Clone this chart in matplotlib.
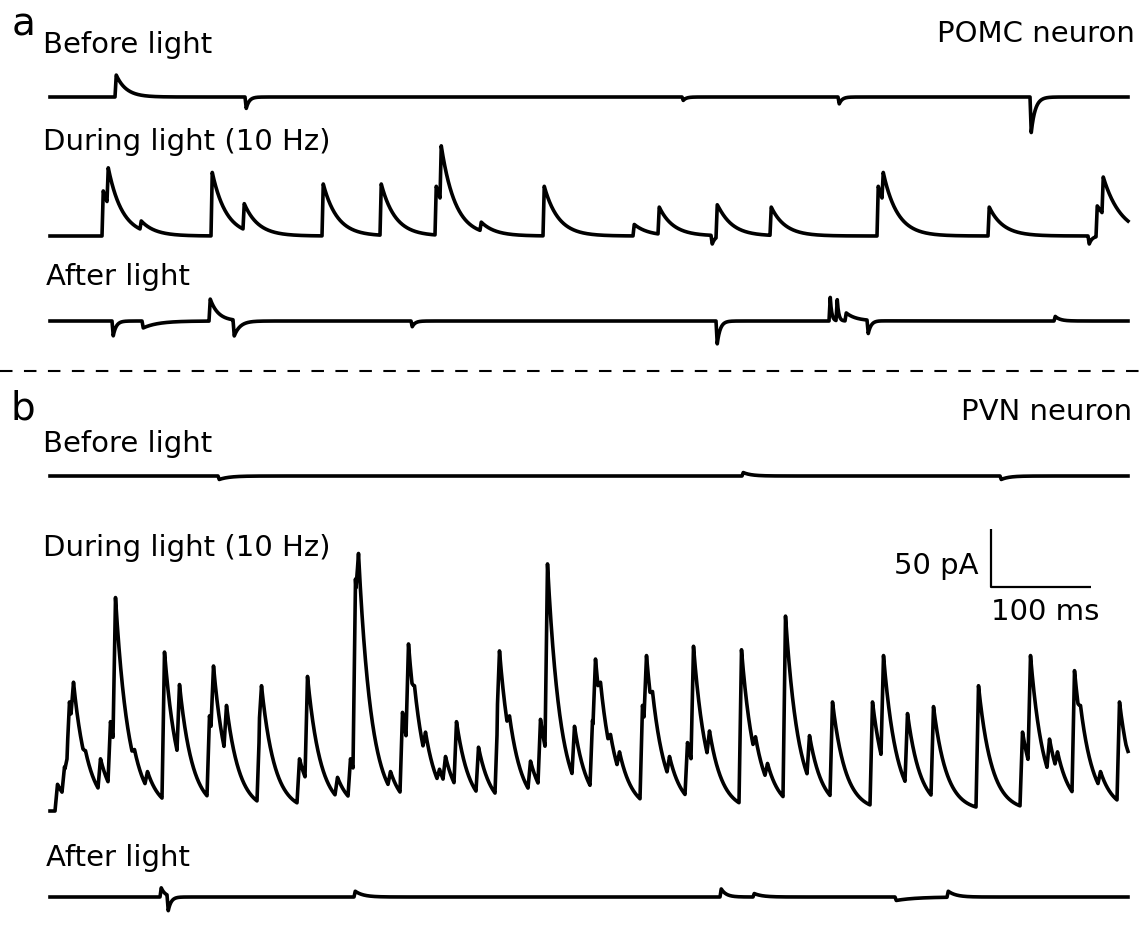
import numpy as np
import matplotlib
matplotlib.use("Agg")
import matplotlib.pyplot as plt
from matplotlib.lines import Line2D

# ---------------- data (times in ms, current in pA; upward = inward event) --------------
DURATION_MS = 1078

# a: POMC neuron
A_BEFORE_T = [65, 195, 632, 788, 980]
A_BEFORE_P = [19, -10, -3, -6, -31]
A_BEFORE_TAU = [10, 3, 3, 3, 4]

A_DURING_T = [52, 57, 90, 161, 193, 272, 330, 385, 390, 430, 493, 583, 608, 661, 666,
              720, 827, 832, 938, 1038, 1046, 1052]
A_DURING_P = [39, 59, 13, 55, 28, 45, 45, 43, 78, 12, 43, 10, 25, -7, 27,
              25, 43, 55, 25, -7, 26, 51]
A_DURING_TAU = [14, 14, 14, 14, 14, 14, 14, 14, 14, 14, 14, 14, 14, 3, 14,
                14, 14, 14, 14, 3, 18, 18]

A_AFTER_T = [62, 92, 159, 183, 361, 666, 779, 786, 795, 817, 1004]
A_AFTER_P = [-13, -6, 19, -13, -5, -20, 21, 19, 7, -11, 4]
A_AFTER_TAU = [3, 15, 8, 6, 3, 3, 1.5, 1.5, 10, 3, 5]

# b: PVN neuron
B_BEFORE_T = [168, 692, 950]
B_BEFORE_P = [-3, 3, -3]
B_BEFORE_TAU = [10, 8, 8]

B_DURING_T = [5, 12, 15, 17, 21, 33, 48, 58, 63, 82, 95, 112, 127, 157, 161, 174, 207, 209,
              247, 255, 285, 298, 303, 306, 338, 350, 356, 362, 373, 387, 393, 404, 426,
              445, 447, 457, 478, 488, 495, 522, 540, 543, 548, 558, 567, 590, 594, 600,
              617, 635, 641, 657, 689, 703, 715, 733, 757, 780, 820, 831, 855, 881, 926,
              970, 978, 997, 1005, 1022, 1028, 1048, 1067, 1076]
B_DURING_P = [23, 38, 47, 94, 111, 52, 45, 77, 184, 53, 34, 137, 109, 82, 125, 91, 71, 108,
              45, 116, 29, 45, 200, 222, 34, 85, 144, 108, 68, 36, 47, 77, 55,
              78, 138, 82, 43, 79, 213, 73, 78, 131, 111, 66, 51, 91, 134, 103,
              47, 59, 142, 69, 139, 64, 41, 168, 65, 94, 94, 134, 84, 90, 108,
              68, 134, 62, 51, 121, 91, 34, 94, 52]
B_DURING_TAU = 13

B_AFTER_T = [110, 117, 304, 670, 703, 845, 897]
B_AFTER_P = [8, -12, 5, 7, 3, -3, 5]
B_AFTER_TAU = [4, 3, 8, 5, 8, 20, 8]

SCALE_PA = 50
SCALE_MS = 100

# ---------------- layout (pixels of the 1143 x 928 figure) ----------------
W, H = 1143, 928
X0 = 50
PX_PER_MS = 1.0
PX_PER_PA = 1.16
FONT = "DejaVu Sans"
FS = 21

fig = plt.figure(figsize=(W / 100, H / 100), dpi=100)
fig.patch.set_facecolor("white")

T = np.arange(0, DURATION_MS + 0.25, 0.25)


def build(times, peaks, taus, rise):
    if np.isscalar(taus):
        taus = [taus] * len(times)
    y = np.zeros_like(T)
    for t0, p, tau in zip(times, peaks, taus):
        cur = np.interp(t0 + rise, T, y)
        amp = p - cur
        amp = max(amp, 0.0) if p > 0 else min(amp, 0.0)
        dt = T - t0
        k = np.where(dt < 0, 0.0,
                     np.where(dt < rise, dt / rise,
                              np.exp(-(np.maximum(dt - rise, 0)) / tau)))
        y += amp * k
    return y


def trace_axes(base_px):
    top_px, bot_px = base_px - 300, base_px + 50
    ax = fig.add_axes([X0 / W, 1 - bot_px / H,
                       DURATION_MS * PX_PER_MS / W, (bot_px - top_px) / H])
    ax.set_xlim(0, DURATION_MS)
    ax.set_ylim(-(bot_px - base_px) / PX_PER_PA, (base_px - top_px) / PX_PER_PA)
    ax.axis("off")
    return ax


def draw(ax, times, peaks, taus, rise=1.2):
    ax.plot(T, build(times, peaks, taus, rise), color="black", lw=2.6,
            solid_joinstyle="round", clip_on=False)


def label(x, y, s, size=FS, ha="left"):
    fig.text(x / W, 1 - y / H, s, fontsize=size, ha=ha, va="baseline",
             family=FONT, color="black")


# panel a
draw(trace_axes(98), A_BEFORE_T, A_BEFORE_P, A_BEFORE_TAU)
draw(trace_axes(237), A_DURING_T, A_DURING_P, A_DURING_TAU)
draw(trace_axes(322), A_AFTER_T, A_AFTER_P, A_AFTER_TAU)

# panel b
B5_BASE = 812
draw(trace_axes(477), B_BEFORE_T, B_BEFORE_P, B_BEFORE_TAU)
ax5 = trace_axes(B5_BASE)
draw(ax5, B_DURING_T, B_DURING_P, B_DURING_TAU, rise=2.5)
draw(trace_axes(898), B_AFTER_T, B_AFTER_P, B_AFTER_TAU)

# scale bar (drawn in trace-5 data units)
bar_t0 = (991 - X0) / PX_PER_MS
bar_y0 = (B5_BASE - 588) / PX_PER_PA
ax5.plot([bar_t0, bar_t0, bar_t0 + SCALE_MS], [bar_y0 + SCALE_PA, bar_y0, bar_y0],
         color="black", lw=1.6, clip_on=False, solid_capstyle="butt")
ax5.text(bar_t0 - 12, bar_y0 + SCALE_PA * 0.38, f"{SCALE_PA} pA", ha="right", va="center",
         fontsize=FS, family=FONT)
ax5.text(bar_t0 + SCALE_MS / 2 + 4, bar_y0 - 9, f"{SCALE_MS} ms", ha="center", va="top",
         fontsize=FS, family=FONT)

# texts
label(12, 35, "a", size=28)
label(43, 53, "Before light")
label(1135, 42, "POMC neuron", ha="right")
label(43, 150, "During light (10 Hz)")
label(46, 285, "After light")

label(10, 420, "b", size=28)
label(1132, 420, "PVN neuron", ha="right")
label(43, 452, "Before light")
label(43, 556, "During light (10 Hz)")
label(46, 866, "After light")

# dashed separator
fig.add_artist(Line2D([0, 1], [1 - 372 / H, 1 - 372 / H], transform=fig.transFigure,
                      color="black", lw=1.5, ls=(0, (6, 5.5))))

fig.savefig("out.png", dpi=100, facecolor="white")
